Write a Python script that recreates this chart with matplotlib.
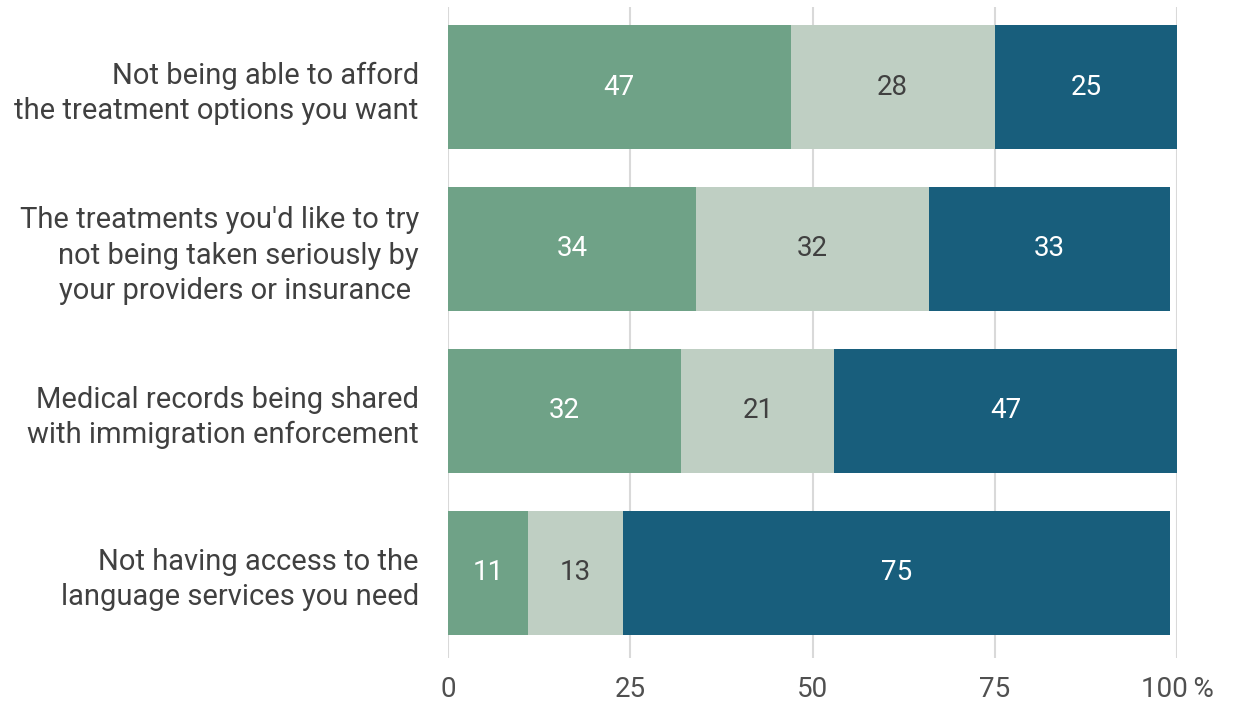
import matplotlib
matplotlib.use('Agg')
import matplotlib.pyplot as plt
import numpy as np

plt.rcParams['font.family'] = ['Roboto', 'DejaVu Sans']

categories = [
    'Not being able to afford\nthe treatment options you want',
    "The treatments you'd like to try\nnot being taken seriously by\nyour providers or insurance ",
    'Medical records being shared\nwith immigration enforcement',
    'Not having access to the\nlanguage services you need',
]
seg_a = [47, 34, 32, 11]
seg_b = [28, 32, 21, 13]
seg_c = [25, 33, 47, 75]
colors = ['#6fa287', '#bfcfc3', '#185e7c']
label_colors = ['white', '#404040', 'white']
xticks = [0, 25, 50, 75, 100]
xticklabels = ['0', '25', '50', '75', '100\u2009%']

fig = plt.figure(figsize=(12.34, 7.05), dpi=100)
ax = fig.add_axes([448/1234, 1-658/705, (1177-448)/1234, (658-7)/705])

y = np.arange(len(categories))
left = np.zeros(len(categories))
for vals, col, lc in zip([seg_a, seg_b, seg_c], colors, label_colors):
    vals = np.array(vals)
    ax.barh(y, vals, left=left, height=0.76, color=col, zorder=2)
    for yi, l, v in zip(y, left, vals):
        ax.text(l + v/2, yi, str(v), ha='center', va='center', color=lc, fontsize=20, zorder=3)
    left += vals

ax.set_xlim(0, 100)
ax.set_ylim(3.525, -0.494)
ax.set_yticks(y)
ax.set_yticklabels(categories, fontsize=21, color='#404040', ha='right', linespacing=1.32)
ax.set_xticks(xticks)
ax.set_xticklabels(xticklabels, fontsize=20, color='#505050')
ax.tick_params(axis='y', length=0, pad=21)
ax.tick_params(axis='x', length=0, pad=13)
ax.grid(axis='x', color='#d9d9d9', linewidth=1.5, zorder=0)
for s in ax.spines.values():
    s.set_visible(False)

plt.savefig('out.png', dpi=100)
